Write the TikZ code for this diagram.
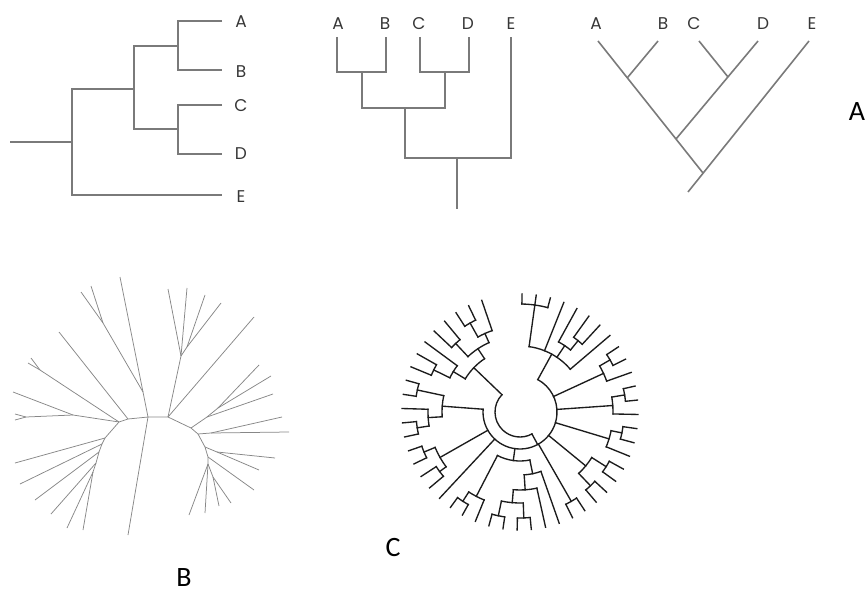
\documentclass[tikz,border=0pt]{standalone}
\usepackage{fontspec}
\newfontfamily\tipfont{Poppins}
\newfontfamily\panelfont{Carlito}
\definecolor{branchgray}{RGB}{122,122,122}
\definecolor{labelgray}{RGB}{55,55,55}
\definecolor{fangray}{RGB}{135,135,135}
\definecolor{circink}{RGB}{28,28,28}

% circular tree helpers (angle in degrees, radii in pt)
\newcommand\radbr[3]{\draw[ctree] (#1:#2pt) -- (#1:#3pt);}
\newcommand\arcbr[3]{\draw[ctree] (#2:#1pt) arc[start angle=#2,end angle=#3,radius=#1pt];}
\newcommand\tipbr[2]{\draw[ctree] (#1:#2pt) -- (#1:118pt);}
\newcommand\cherrybr[3]{\arcbr{#1}{#2}{#3}\tipbr{#2}{#1}\tipbr{#3}{#1}}

\begin{document}
\begin{tikzpicture}[x=1pt,y=1pt,
  clado/.style={draw=branchgray, line width=1.6pt},
  tiplabel/.style={font=\tipfont\fontsize{17}{17}\selectfont, text=labelgray, inner sep=0pt},
  panel/.style={font=\panelfont\fontsize{28}{28}\selectfont, text=black, inner sep=0pt},
  unroot/.style={draw=fangray, line width=0.75pt},
  ctree/.style={draw=circink, line width=1.35pt, line cap=rect}
]
\begin{scope}[yscale=-1]
\useasboundingbox (0,0) rectangle (866,593);

% ---------- rectangular tree, rooted at the left ----------
\coordinate (t1root) at (10,142);
\coordinate (t1n0) at (72,142);
\coordinate (t1n1) at (134,89);
\coordinate (t1n2) at (178,46);
\coordinate (t1n3) at (178,129);
\coordinate (t1A) at (222,21);
\coordinate (t1B) at (222,70);
\coordinate (t1C) at (222,105);
\coordinate (t1D) at (222,154);
\coordinate (t1E) at (222,195);
\draw[clado] (t1root) -- (t1n0);
\draw[clado] (t1n1) -| (t1n0) |- (t1E);
\draw[clado] (t1n2) -| (t1n1) |- (t1n3);
\draw[clado] (t1A) -| (t1n2) |- (t1B);
\draw[clado] (t1C) -| (t1n3) |- (t1D);
\node[tiplabel] (t1labA) at (241,22) {A};
\node[tiplabel] (t1labB) at (241,72) {B};
\node[tiplabel] (t1labC) at (241,106) {C};
\node[tiplabel] (t1labD) at (241,154) {D};
\node[tiplabel] (t1labE) at (241,197) {E};

% ---------- rectangular tree, rooted at the bottom ----------
\coordinate (t2A) at (337,37);
\coordinate (t2B) at (386,37);
\coordinate (t2C) at (420,37);
\coordinate (t2D) at (469,37);
\coordinate (t2E) at (511,37);
\coordinate (t2ab) at (362,72);
\coordinate (t2cd) at (445,72);
\coordinate (t2abcd) at (405,108);
\coordinate (t2root) at (457,158);
\coordinate (t2base) at (457,209);
\draw[clado] (t2A) |- (t2ab) -| (t2B);
\draw[clado] (t2C) |- (t2cd) -| (t2D);
\draw[clado] (t2ab) |- (t2abcd) -| (t2cd);
\draw[clado] (t2abcd) |- (t2root) -| (t2E);
\draw[clado] (t2root) -- (t2base);
\node[tiplabel] (t2labA) at (338,24) {A};
\node[tiplabel] (t2labB) at (385,24) {B};
\node[tiplabel] (t2labC) at (419,24) {C};
\node[tiplabel] (t2labD) at (468,24) {D};
\node[tiplabel] (t2labE) at (511,24) {E};

% ---------- slanted tree ----------
\coordinate (t3A) at (598,41);
\coordinate (t3B) at (658,41);
\coordinate (t3C) at (699,41);
\coordinate (t3D) at (758,41);
\coordinate (t3E) at (809,41);
\coordinate (t3ab) at (627.3,77.8);
\coordinate (t3cd) at (728,77);
\coordinate (t3abcd) at (676,139);
\coordinate (t3root) at (703,173);
\coordinate (t3base) at (688,192);
\draw[clado] (t3A) -- (t3root);
\draw[clado] (t3B) -- (t3ab);
\draw[clado] (t3C) -- (t3cd);
\draw[clado] (t3D) -- (t3abcd);
\draw[clado] (t3E) -- (t3base);
\node[tiplabel] (t3labA) at (596,24) {A};
\node[tiplabel] (t3labB) at (663,24) {B};
\node[tiplabel] (t3labC) at (694,24) {C};
\node[tiplabel] (t3labD) at (763,24) {D};
\node[tiplabel] (t3labE) at (812,24) {E};

% ---------- unrooted tree ----------
\coordinate (bl5) at (93,472);
\coordinate (bl4) at (96,463);
\coordinate (bl3) at (99,452);
\coordinate (bl2) at (102,444);
\coordinate (bl1) at (105,438);
\coordinate (bL1) at (119,422);
\coordinate (bk1) at (128,419);
\coordinate (bN1) at (148,417);
\coordinate (bN2) at (168,417);
\coordinate (bk2) at (191,428);
\coordinate (bk3) at (198,434);
\coordinate (bk4) at (205,447);
\coordinate (bk5) at (208,457);
\coordinate (bW) at (208,464);
\draw[unroot] (bl5) -- (bl4) -- (bl3) -- (bl2) -- (bl1) -- (bL1) -- (bk1) -- (bN1)
  -- (bN2) -- (bk2) -- (bk3) -- (bk4) -- (bk5) -- (bW);
% lower left fan
\draw[unroot] (bl1) -- (15,463);
\draw[unroot] (bl2) -- (20,484);
\draw[unroot] (bl3) -- (35,500);
\draw[unroot] (bl4) -- (51,514);
\draw[unroot] (bl5) -- (67,528);
\draw[unroot] (bl5) -- (83,530);
% upper left fan
\coordinate (bP1) at (143,392);
\coordinate (bQ) at (103,323);
\draw[unroot] (bN1) -- (bP1) -- (120,277);
\draw[unroot] (bP1) -- (bQ) -- (81,292);
\draw[unroot] (bQ) -- (91,286);
\draw[unroot] (bk1) -- (59,332);
\coordinate (bR) at (40,370);
\draw[unroot] (bL1) -- (bR) -- (28,363);
\draw[unroot] (bR) -- (31,358);
\coordinate (bS) at (73,415);
\coordinate (bS2) at (26,417);
\draw[unroot] (bL1) -- (bS) -- (13,392);
\draw[unroot] (bS) -- (bS2) -- (15,414);
\draw[unroot] (bS2) -- (15,420);
% upper right fan
\coordinate (bT) at (181,356);
\coordinate (bT2) at (187,347);
\draw[unroot] (bN2) -- (bT) -- (168,289);
\draw[unroot] (bT) -- (187,288);
\draw[unroot] (bT) -- (bT2) -- (205,295);
\draw[unroot] (bT2) -- (221,303);
\draw[unroot] (bN2) -- (254,317);
% right fan
\coordinate (bU) at (207,417);
\coordinate (bU1) at (218,408);
\draw[unroot] (bk2) -- (bU) -- (273,394);
\draw[unroot] (bU) -- (bU1) -- (271,376);
\draw[unroot] (bU1) -- (259,365);
\coordinate (bX) at (211,433);
\draw[unroot] (bk3) -- (bX) -- (289,432);
\draw[unroot] (bX) -- (282,417);
\coordinate (bV) at (217,452);
\draw[unroot] (bk4) -- (bV) -- (275,458);
\draw[unroot] (bV) -- (259,470);
\draw[unroot] (bk5) -- (254,490);
% lower right fan
\coordinate (bW2) at (213,477);
\draw[unroot] (bW) -- (189,515);
\draw[unroot] (bW) -- (205,513);
\draw[unroot] (bW) -- (bW2) -- (219,506);
\draw[unroot] (bW2) -- (231,503);
% long central branch
\draw[unroot] (bN1) -- (128,535);

% ---------- panel letters ----------
\node[panel] (panA) at (857,112) {A};
\node[panel] (panB) at (184,578) {B};
\node[panel] (panC) at (393,548) {C};
\end{scope}

% ---------- circular tree ----------
\begin{scope}[shift={(520,-412)}]
\arcbr{25}{136.2}{298.5}
% upper-left clade
\radbr{136.2}{25}{64}
\arcbr{64}{123.65}{148.8}
\radbr{148.8}{64}{78}
\arcbr{78}{143.6}{154.0}
\tipbr{143.6}{78}
\radbr{154.0}{78}{96}
\cherrybr{96}{150.5}{157.5}
\radbr{123.65}{64}{76}
\arcbr{76}{114.1}{133.2}
\radbr{133.2}{76}{94}
\cherrybr{94}{129.7}{136.7}
\radbr{114.1}{76}{86}
\arcbr{86}{108.9}{119.3}
\tipbr{108.9}{86}
\radbr{119.3}{86}{102}
\cherrybr{102}{115.8}{122.8}
% the other clade of the root
\radbr{-61.5}{25}{37}
\arcbr{37}{-184.3}{61.25}
% upper right
\radbr{61.25}{37}{66}
\arcbr{66}{40.4}{82.1}
\radbr{82.1}{66}{108}
\arcbr{108}{75.1}{89}
\tipbr{89}{108}\tipbr{82.1}{108}\tipbr{75.1}{108}
\tipbr{68.2}{66}
\radbr{56.0}{66}{80}
\arcbr{80}{50.85}{61.2}
\tipbr{61.2}{80}
\radbr{50.85}{80}{92}
\cherrybr{92}{47.4}{54.3}
\tipbr{40.4}{66}
% right side
\radbr{24.8}{37}{92}
\arcbr{92}{19.6}{30.05}
\tipbr{19.6}{92}
\radbr{30.05}{92}{104}
\cherrybr{104}{26.6}{33.5}
\radbr{4.0}{37}{93}
\arcbr{93}{-1.2}{9.25}
\tipbr{-1.2}{93}
\radbr{9.25}{93}{106}
\cherrybr{106}{5.8}{12.7}
\radbr{-16.8}{37}{93}
\arcbr{93}{-22}{-11.6}
\tipbr{-22}{93}
\radbr{-11.6}{93}{104}
\cherrybr{104}{-15.1}{-8.1}
\radbr{-39.35}{37}{85}
\arcbr{85}{-46.3}{-32.4}
\radbr{-32.4}{85}{102}
\cherrybr{102}{-35.9}{-28.9}
\radbr{-46.3}{85}{102}
\cherrybr{102}{-49.8}{-42.8}
\radbr{-60.15}{37}{103}
\cherrybr{103}{-63.6}{-56.7}
% bottom
\radbr{-97.9}{37}{49}
\arcbr{49}{-117.4}{-78.4}
\radbr{-78.4}{49}{63}
\arcbr{63}{-86.2}{-70.6}
\tipbr{-70.6}{63}
\radbr{-86.2}{63}{78}
\arcbr{78}{-94.9}{-77.5}
\tipbr{-77.5}{78}
\radbr{-94.9}{78}{91}
\arcbr{91}{-101.8}{-87.95}
\radbr{-87.95}{91}{106}
\cherrybr{106}{-91.4}{-84.5}
\radbr{-101.8}{91}{106}
\cherrybr{106}{-105.3}{-98.3}
\radbr{-117.4}{49}{95}
\arcbr{95}{-122.65}{-112.2}
\tipbr{-112.2}{95}
\radbr{-122.65}{95}{106}
\cherrybr{106}{-126.1}{-119.2}
\tipbr{-133}{37}
% lower left
\radbr{-150.4}{37}{92}
\arcbr{92}{-157.35}{-143.45}
\radbr{-143.45}{92}{100}
\cherrybr{100}{-146.9}{-140}
\radbr{-157.35}{92}{104}
\cherrybr{104}{-160.8}{-153.9}
% left
\radbr{-184.3}{37}{78}
\arcbr{78}{-192.1}{-176.5}
\radbr{-176.5}{78}{92}
\arcbr{92}{-181.7}{-171.25}
\tipbr{-181.7}{92}
\radbr{-171.25}{92}{104}
\cherrybr{104}{-174.7}{-167.8}
\radbr{-192.1}{78}{105}
\cherrybr{105}{-195.6}{-188.6}
\end{scope}
\end{tikzpicture}
\end{document}
